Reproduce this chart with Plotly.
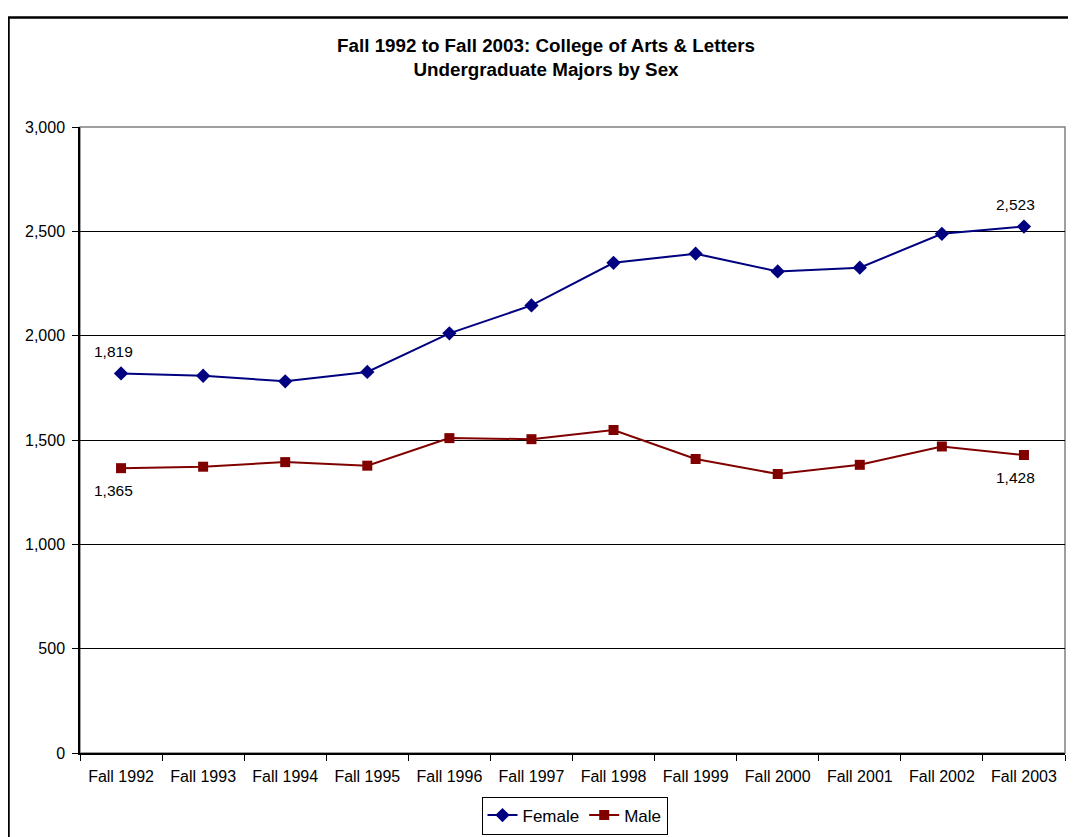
import plotly.graph_objects as go

categories = ["Fall 1992", "Fall 1993", "Fall 1994", "Fall 1995", "Fall 1996", "Fall 1997",
              "Fall 1998", "Fall 1999", "Fall 2000", "Fall 2001", "Fall 2002", "Fall 2003"]
female = [1819, 1808, 1781, 1826, 2011, 2145, 2349, 2393, 2308, 2326, 2488, 2523]
male = [1365, 1372, 1394, 1377, 1509, 1504, 1548, 1409, 1337, 1381, 1469, 1428]
y_ticks = [0, 500, 1000, 1500, 2000, 2500, 3000]

# The page body has an 8px margin: figure coords = page coords - 8
OFF = 8
W, H = 1076 - OFF, 837 - OFF
L, R, T, B = 80 - OFF, 1076 - 1065, 127 - OFF, 837 - 753
pw, ph = W - L - R, H - T - B


def px(xp):  # page x -> paper x
    return (xp - OFF - L) / pw


def py(yp):  # page y -> paper y
    return (H - B - (yp - OFF)) / ph


font = "Arial, Liberation Sans, sans-serif"

fig = go.Figure()
fig.add_trace(go.Scatter(
    x=categories, y=female, name="Female", mode="lines+markers",
    line=dict(color="#000080", width=2),
    marker=dict(symbol="diamond", size=11, color="#000080"),
))
fig.add_trace(go.Scatter(
    x=categories, y=male, name="Male", mode="lines+markers",
    line=dict(color="#800000", width=2),
    marker=dict(symbol="square", size=10, color="#800000"),
))

annotations = []
for series, shift in ((female, 22), (male, -22)):
    for i in (0, len(series) - 1):
        annotations.append(dict(
            x=categories[i], y=series[i], xref="x", yref="y",
            text=f"{series[i]:,}", showarrow=False,
            xshift=-8, yshift=shift,
            font=dict(family=font, size=15.5, color="#000000"),
        ))

fig.update_layout(
    width=W, height=H,
    margin=dict(l=L, r=R, t=T, b=B, autoexpand=False),
    paper_bgcolor="white", plot_bgcolor="white",
    font=dict(family=font, size=16, color="#000000"),
    title=dict(
        text="<b>Fall 1992 to Fall 2003: College of Arts &amp; Letters<br>Undergraduate Majors by Sex</b>",
        x=(546 - OFF) / W, xanchor="center", xref="container",
        y=1 - (52 - OFF) / H, yanchor="middle", yref="container",
        font=dict(family=font, size=18.8, color="#000000"),
    ),
    showlegend=True,
    legend=dict(
        orientation="h", x=px(574.5), xanchor="center", y=py(815.5), yanchor="middle",
        bordercolor="#000000", borderwidth=1, bgcolor="white",
        font=dict(family=font, size=17),
        itemwidth=30, tracegroupgap=0,
    ),
    annotations=annotations,
    xaxis=dict(
        type="category", range=[-0.5, 11.5], tickson="boundaries",
        ticks="outside", ticklen=6, tickcolor="#000000",
        ticklabelstandoff=8,
        showline=True, linecolor="#000000", linewidth=1.5,
        showgrid=False, zeroline=False,
        tickfont=dict(family=font, size=16),
    ),
    yaxis=dict(
        range=[0, 3000], tickmode="array", tickvals=y_ticks,
        tickformat=",", ticks="outside", ticklen=6, tickcolor="#000000",
        ticklabelstandoff=4,
        showline=True, linecolor="#000000", linewidth=1.5,
        showgrid=True, gridcolor="#000000", gridwidth=1,
        zeroline=False, tickfont=dict(family=font, size=16),
    ),
    shapes=[
        dict(type="rect", xref="paper", yref="paper", x0=0, x1=1, y0=0, y1=1,
             line=dict(color="#808080", width=1.5), layer="below"),
        dict(type="rect", xref="paper", yref="paper",
             x0=px(8.5), x1=px(1100), y0=py(17.5), y1=py(860),
             line=dict(color="#000000", width=2.5)),
    ],
)

fig.write_html("out.html")
